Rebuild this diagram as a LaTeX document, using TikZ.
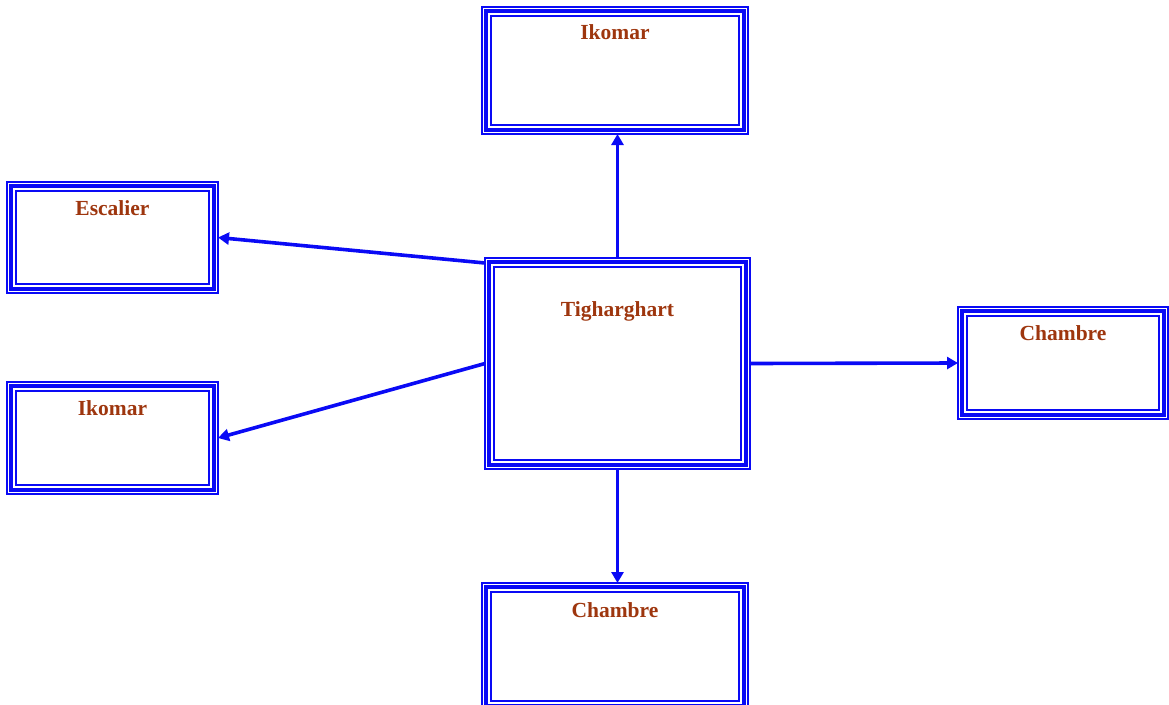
\documentclass[tikz,border=0pt]{standalone}
\usepackage{fontspec}
\setmainfont{Liberation Serif}
\usetikzlibrary{arrows.meta,calc}
\definecolor{bl}{RGB}{10,10,245}
\definecolor{txt}{RGB}{158,54,14}
\newcommand{\roomframe}[1]{%
  \draw[bl,line width=4pt] ([shift={(4.4pt,-4.4pt)}]#1.north west) rectangle ([shift={(-4.4pt,4.4pt)}]#1.south east);
  \draw[bl,line width=1.7pt] ([shift={(9.2pt,-9.2pt)}]#1.north west) rectangle ([shift={(-9.2pt,9.2pt)}]#1.south east);}
\begin{document}
\begin{tikzpicture}[x=1pt,y=-1pt,
  room/.style={draw=bl,line width=1.4pt,inner sep=0pt,outer sep=0pt,fill=white},
  lbl/.style={anchor=base,text=txt,font=\fontsize{21.5}{25}\selectfont\bfseries,inner sep=0pt},
  conn/.style={bl,line width=3.6pt,-{Triangle[length=11pt,width=12pt]}}]
\useasboundingbox (0,0) rectangle (1169,704);
\clip (0,0) rectangle (1169,704);
\node[room,minimum width=266pt,minimum height=127pt] (top) at (615,70.5) {};
\node[room,minimum width=211pt,minimum height=111pt] (esc) at (112.5,237.5) {};
\node[room,minimum width=211pt,minimum height=112pt] (ikl) at (112.5,438) {};
\node[room,minimum width=265pt,minimum height=211pt] (ctr) at (617.5,363.5) {};
\node[room,minimum width=210pt,minimum height=112pt] (chr) at (1063,363) {};
\node[room,minimum width=266pt,minimum height=127pt] (chb) at (615,646.5) {};
\roomframe{top}\roomframe{esc}\roomframe{ikl}\roomframe{ctr}\roomframe{chr}\roomframe{chb}
\node[lbl] at ([yshift=-32pt]top.north) {Ikomar};
\node[lbl] at ([yshift=-33pt]esc.north) {Escalier};
\node[lbl] at ([yshift=-33pt]ikl.north) {Ikomar};
\node[lbl] at ([yshift=-58pt]ctr.north) {Tigharghart};
\node[lbl] at ([yshift=-33pt]chr.north) {Chambre};
\node[lbl] at ([yshift=-34pt]chb.north) {Chambre};
\coordinate (ctrnw) at ([yshift=-5pt]ctr.north west);
\draw[conn] (ctr.north) -- (ctr.north |- top.south);
\draw[conn] (ctrnw) -- (esc.east);
\draw[conn] (ctr.west) -- (ikl.east);
\draw[conn] (ctr.east) -- (chr.west);
\draw[conn] (ctr.south) -- (ctr.south |- chb.north);
\end{tikzpicture}
\end{document}
